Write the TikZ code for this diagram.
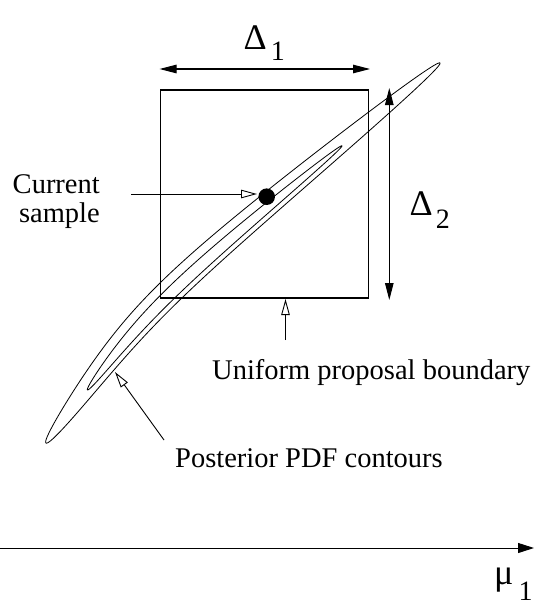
\documentclass[tikz,border=0pt]{standalone}
\usepackage{fontspec}
\setmainfont{Liberation Serif}
\usetikzlibrary{arrows.meta}
\begin{document}
\begin{tikzpicture}[x=1pt,y=-1pt,
  lbl/.style={font=\fontsize{28.5}{30}\selectfont, inner sep=0pt},
  greek/.style={inner sep=0pt},
  contour/.style={line width=0.8pt, line join=round},
  boxstyle/.style={draw, line width=1.2pt, minimum width=208pt, minimum height=208pt, inner sep=0pt},
  dimarrow/.style={line width=1pt, {Triangle[length=17pt,width=8.5pt]}-{Triangle[length=17pt,width=8.5pt]}},
  openarrow/.style={line width=0.9pt, -{Triangle[open,length=16pt,width=8.5pt,line width=0.9pt]}},
  axisarrow/.style={line width=1pt, -{Triangle[length=16pt,width=10pt]}},
  declare function={
    tt(\a,\s,\e)=\s+(\e-\s)*(1-cos(\a))/2;
    bx(\t)=46*(1-\t)^3+450*\t*(1-\t)+440*\t^3;
    by(\t)=443*(1-\t)^3+900*\t*(1-\t)+63*\t^3;
    ddx(\t)=1.04*(1-\t)^2+2.90*\t^2;
    ddy(\t)=-1.43*(1-\t)^2-2.37*\t^2;
    ddl(\t)=sqrt(ddx(\t)^2+ddy(\t)^2);
    ex(\a,\s,\e,\w,\o)=bx(tt(\a,\s,\e))+(\w*sin(\a)+\o)*ddy(tt(\a,\s,\e))/ddl(tt(\a,\s,\e));
    ey(\a,\s,\e,\w,\o)=by(tt(\a,\s,\e))-(\w*sin(\a)+\o)*ddx(tt(\a,\s,\e))/ddl(tt(\a,\s,\e));
  }
]
\useasboundingbox (0,0) rectangle (534,610);

% proposal box
\node[boxstyle] (box) at (264.4,194) {};

% outer contour
\draw[contour] plot[variable=\a, domain=0:360, samples=361] ({ex(\a,0,1,13,0)},{ey(\a,0,1,13,0)}) -- cycle;
% inner contour
\draw[contour] plot[variable=\a, domain=0:360, samples=361] ({ex(\a,0.145,0.87,6,-2)},{ey(\a,0.145,0.87,6,-2)}) -- cycle;

% current sample
\node[circle, fill=black, minimum size=16.6pt, inner sep=0pt] (dot) at (266.7,196.7) {};

% labels
\node[greek, anchor=base west] (d1) at (243.5,50) {\fontsize{36}{36}\selectfont Δ\hspace{4pt}\raisebox{-10pt}{\fontsize{28}{28}\selectfont 1}};
\node[greek, anchor=base west] (d2) at (409.5,215) {\fontsize{36}{36}\selectfont Δ\hspace{3pt}\raisebox{-13pt}{\fontsize{28}{28}\selectfont 2}};
\node[greek, anchor=base west] (mu) at (494,584) {\fontsize{36}{36}\selectfont μ\hspace{5pt}\raisebox{-16pt}{\fontsize{28}{28}\selectfont 1}};
\node[lbl, anchor=base east] (cs1) at (100,193) {Current};
\node[lbl, anchor=base east] (cs2) at (100,222) {sample};
\node[lbl, anchor=base west] (ub) at (212,379) {Uniform proposal boundary};
\node[lbl, anchor=base] (pc) at (309,467) {Posterior PDF contours};

% dimension arrows
\coordinate (d1l) at (159.5,69);
\coordinate (d1r) at (370,69);
\draw[dimarrow] (d1l) -- (d1r);
\coordinate (d2t) at (389.3,88);
\coordinate (d2b) at (389.3,300);
\draw[dimarrow] (d2t) -- (d2b);

% pointer arrows
\coordinate (cstail) at (131,194);
\coordinate (cstip) at (257,194);
\draw[openarrow] (cstail) -- (cstip);
\coordinate (ubtail) at (285.5,340);
\coordinate (ubtip) at (285.5,299);
\draw[openarrow] (ubtail) -- (ubtip);
\coordinate (pctail) at (164,440);
\coordinate (pctip) at (115,372);
\draw[openarrow] (pctail) -- (pctip);

% axis
\coordinate (ax0) at (0,548);
\coordinate (ax1) at (534,548);
\draw[axisarrow] (ax0) -- (ax1);
\end{tikzpicture}
\end{document}
